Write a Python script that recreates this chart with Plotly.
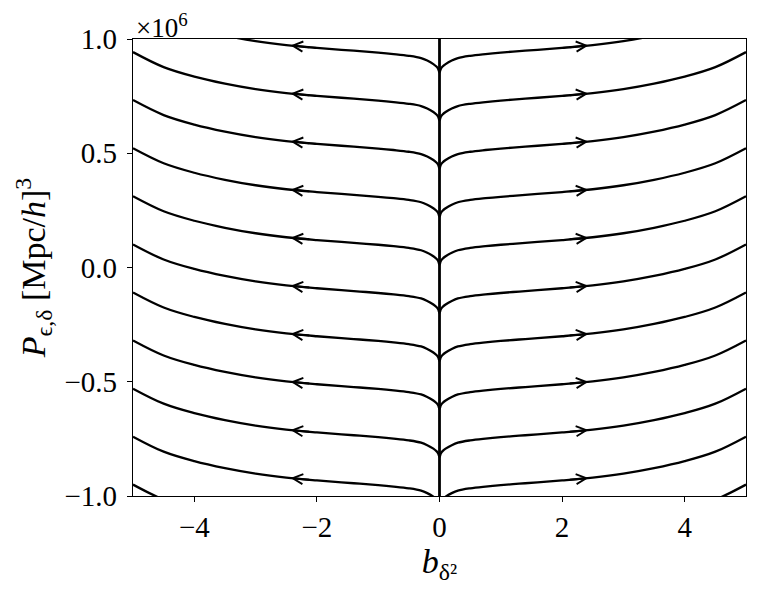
import numpy as np
import plotly.graph_objects as go

# ── data ────────────────────────────────────────────────────────────────────
# every streamline has the same shape, shifted up/down:
# height above the point where it meets b=0 (units of 1e6) vs |b_delta2|
PROFILE_X = [0.0, 0.02, 0.05, 0.1, 0.2, 0.3, 0.5, 0.75, 1.0, 1.3, 1.6, 2.0, 2.5,
             3.0, 3.5, 4.0, 4.5, 5.0]
PROFILE_DY = [0.0, 0.0153, 0.0263, 0.0372, 0.0525, 0.0635, 0.0735, 0.0812, 0.0875,
              0.0938, 0.0998, 0.1081, 0.1204, 0.1379, 0.1619, 0.1926, 0.2341, 0.2998]

# P value where each streamline touches b=0 (x1e6)
CUSP_Y = [1.064, 0.853, 0.643, 0.433, 0.222, 0.012, -0.199, -0.409, -0.619, -0.830, -1.040, -1.250]

# arrow tips sit at |b| = 2.5, pointing outwards
ARROW_X = 2.5

X_TICKS = [-4, -2, 0, 2, 4]
X_TICKTEXT = ["\u22124", "\u22122", "0", "2", "4"]
Y_TICKS = [-1.0, -0.5, 0.0, 0.5, 1.0]
Y_TICKTEXT = ["\u22121.0", "\u22120.5", "0.0", "0.5", "1.0"]

FONT = "Liberation Serif, DejaVu Serif, serif"

# ── figure ──────────────────────────────────────────────────────────────────

px = np.array(PROFILE_X)
dy = np.array(PROFILE_DY)
xs = np.concatenate([-px[::-1], px[1:]])
dys = np.concatenate([dy[::-1], dy[1:]])

fig = go.Figure()

# b = 0 is itself a streamline
fig.add_trace(go.Scatter(
    x=[0, 0], y=[-1, 1], mode="lines",
    line=dict(color="black", width=2.8),
    hoverinfo="skip", showlegend=False,
))

for c in CUSP_Y:
    fig.add_trace(go.Scatter(
        x=xs, y=c + dys, mode="lines",
        line=dict(color="black", width=2.3, shape="spline", smoothing=1.0),
        hoverinfo="skip", showlegend=False,
    ))

annotations = []
head_x = ARROW_X - 0.07
tail_x = ARROW_X - 0.4
for c in CUSP_Y:
    y_head = c + np.interp(head_x, px, dy)
    y_tail = c + np.interp(tail_x, px, dy)
    if not (-1 < y_head < 1):
        continue
    for s in (-1, 1):
        annotations.append(dict(
            x=s * head_x, y=y_head, ax=s * tail_x, ay=y_tail,
            xref="x", yref="y", axref="x", ayref="y",
            text="", showarrow=True, arrowhead=5, arrowsize=1,
            arrowwidth=2, arrowcolor="black", standoff=0,
        ))

annotations.append(dict(
    x=0, y=1, xref="paper", yref="paper", xanchor="left", yanchor="bottom",
    text="\u00d710<sup>6</sup>", showarrow=False, xshift=1, yshift=-6,
    font=dict(family=FONT, size=27, color="black"),
))

axis_common = dict(
    showline=True, linecolor="black", linewidth=1.2, mirror=True,
    ticks="outside", ticklen=5, tickwidth=1.2, tickcolor="black",
    showgrid=False, zeroline=False,
    tickfont=dict(family=FONT, size=29, color="black"),
)

# the page body adds an 8px offset, so the figure is 8px smaller each way
fig.update_layout(
    width=750, height=583,
    paper_bgcolor="white", plot_bgcolor="white",
    margin=dict(l=125, r=12, t=31, b=95),
    showlegend=False,
    annotations=annotations,
    xaxis=dict(
        **axis_common, range=[-5, 5], tickvals=X_TICKS, ticktext=X_TICKTEXT,
        title=dict(text="<i>b</i><sub>\u03b4\u00b2</sub>", standoff=2,
                   font=dict(family=FONT, size=34, color="black")),
    ),
    yaxis=dict(
        **axis_common, range=[-1, 1], tickvals=Y_TICKS, ticktext=Y_TICKTEXT,
        ticklabelstandoff=4,
        title=dict(text="<i>P</i><sub>\u03f5,\u03b4</sub> [Mpc/<i>h</i>]<sup>3</sup>",
                   standoff=8, font=dict(family=FONT, size=34, color="black")),
    ),
)

fig.write_html("out.html")
